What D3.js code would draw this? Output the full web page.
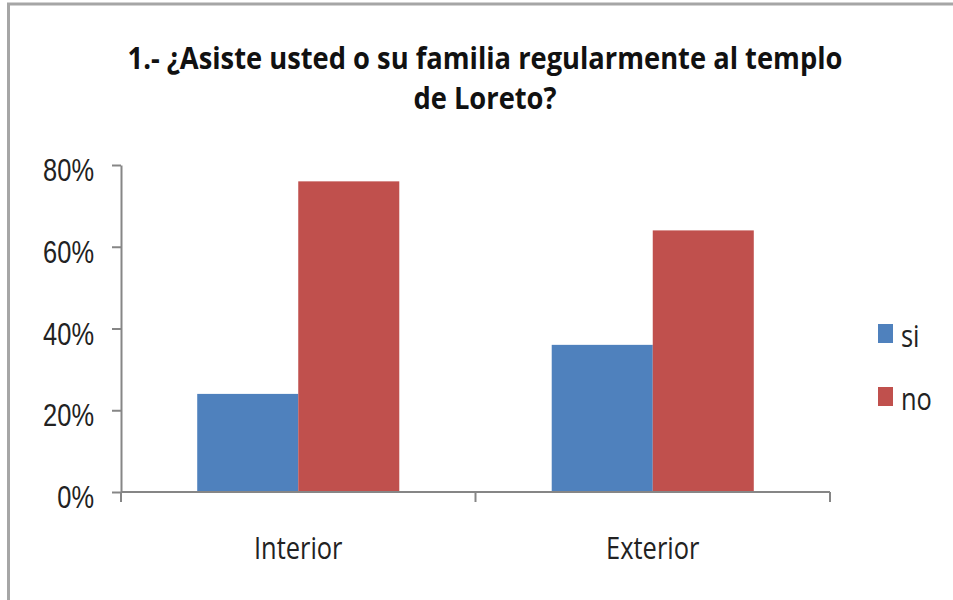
<!DOCTYPE html>
<html>
<head>
  <meta charset="utf-8">
  <script src="https://d3js.org/d3.v7.min.js"></script>
  <style type="text/css">
  body { margin: 0; background: #fff; }
  svg { display: block; font-family: "Open Sans", sans-serif; }
  .axis path, .axis line { stroke: #868686; stroke-width: 2; }
  .axis text { fill: #222; }
  </style>
</head>
<body>
  <script type="text/javascript">
    // data
    var categories = ["Interior", "Exterior"];
    var series = ["si", "no"];
    var siValues = [0.24, 0.36];
    var noValues = [0.76, 0.64];
    var yTicks = [0, 0.2, 0.4, 0.6, 0.8];
    var colors = ["#4f81bd", "#c0504d"];
    var titleLines = ["1.- ¿Asiste usted o su familia regularmente al templo", "de Loreto?"];

    var width = 953, height = 600;
    var squeeze = 0.82;      // text in the reference is horizontally compressed
    var titleSqueeze = 0.91;

    var svg = d3.select("body").append("svg")
      .attr("width", width)
      .attr("height", height);

    // outer frame (right and bottom edges sit outside the picture)
    svg.append("rect")
      .attr("x", 8.5).attr("y", 4)
      .attr("width", 980).attr("height", 640)
      .attr("fill", "none")
      .attr("stroke", "#a6a6a6")
      .attr("stroke-width", 3);

    var rows = categories.map(function(c, i) {
      return { cat: c, vals: [siValues[i], noValues[i]] };
    });

    var x0 = d3.scaleBand()
      .domain(categories)
      .range([121, 830])
      .paddingInner(0.43)
      .paddingOuter(0.215);

    var x1 = d3.scaleBand()
      .domain(series)
      .range([0, x0.bandwidth()]);

    var y = d3.scaleLinear()
      .domain([0, 0.8])
      .range([492, 165]);

    var color = d3.scaleOrdinal().domain(series).range(colors);

    // y axis
    var yAxis = d3.axisLeft(y)
      .tickValues(yTicks)
      .tickFormat(d3.format(".0%"))
      .tickSize(9)
      .tickSizeOuter(0)
      .tickPadding(18);

    var yg = svg.append("g")
      .attr("class", "axis yaxis")
      .attr("transform", "translate(121,0)")
      .call(yAxis);
    yg.selectAll("text")
      .attr("dy", "0.5em")
      .style("font-size", "31px");

    // bars
    var grp = svg.selectAll(".cat")
      .data(rows)
      .enter().append("g")
      .attr("class", "cat")
      .attr("transform", function(d) { return "translate(" + x0(d.cat) + ",0)"; });

    grp.selectAll("rect")
      .data(function(d) { return d.vals.map(function(v, i) { return { name: series[i], v: v }; }); })
      .enter().append("rect")
      .attr("x", function(d) { return x1(d.name); })
      .attr("y", function(d) { return y(d.v); })
      .attr("width", x1.bandwidth())
      .attr("height", function(d) { return y(0) - y(d.v); })
      .attr("fill", function(d) { return color(d.name); });

    // x axis: baseline with ticks at the category boundaries
    var xg = svg.append("g").attr("class", "axis xaxis");
    var r = x0.range();
    xg.append("path")
      .attr("d", "M" + r[0] + "," + y(0) + "H" + r[1])
      .attr("fill", "none");
    var bounds = d3.range(categories.length + 1).map(function(i) { return r[0] + i * x0.step(); });
    xg.selectAll("line")
      .data(bounds)
      .enter().append("line")
      .attr("x1", function(d) { return d; })
      .attr("x2", function(d) { return d; })
      .attr("y1", y(0))
      .attr("y2", y(0) + 10);
    xg.selectAll("text")
      .data(categories)
      .enter().append("text")
      .attr("x", function(d) { return x0(d) + x0.bandwidth() / 2; })
      .attr("y", 559)
      .attr("text-anchor", "middle")
      .style("font-size", "31px")
      .text(function(d) { return d; });

    // title
    svg.selectAll(".title")
      .data(titleLines)
      .enter().append("text")
      .attr("class", "title")
      .attr("x", 485)
      .attr("y", function(d, i) { return 69 + i * 40; })
      .attr("text-anchor", "middle")
      .attr("font-weight", "bold")
      .style("font-size", "30px")
      .style("fill", "#111")
      .text(function(d) { return d; });

    // legend
    var legend = svg.selectAll(".legend")
      .data(series)
      .enter().append("g")
      .attr("class", "legend")
      .attr("transform", function(d, i) { return "translate(878," + (324 + i * 63) + ")"; });
    legend.append("rect")
      .attr("width", 15)
      .attr("height", 19)
      .attr("fill", color);
    legend.append("text")
      .attr("x", 23)
      .attr("y", 23)
      .style("font-size", "31px")
      .style("fill", "#222")
      .text(function(d) { return d; });

    // compress all text horizontally, like the reference
    svg.selectAll("text").each(function() {
      var w = this.getComputedTextLength();
      var k = d3.select(this).classed("title") ? titleSqueeze : squeeze;
      d3.select(this)
        .attr("textLength", w * k)
        .attr("lengthAdjust", "spacingAndGlyphs");
    });
  </script>
</body>
</html>
